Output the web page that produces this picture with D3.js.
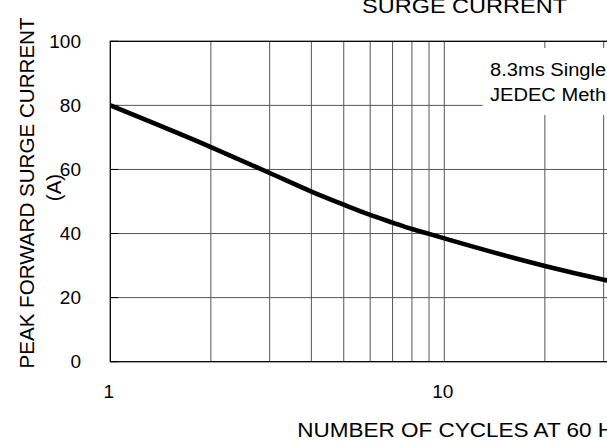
<!DOCTYPE html>
<html>
<head>
<meta charset="utf-8">
<script src="https://cdn.jsdelivr.net/npm/d3@7"></script>
<style>
  html, body { margin: 0; padding: 0; background: #fff; }
  svg { display: block; }
  text { font-family: "Liberation Sans", Arial, Helvetica, sans-serif; fill: #000; }
</style>
</head>
<body>
<svg id="chart" width="607" height="441"></svg>
<script>
// ---- data ----
const cycles = [1, 2, 3, 4, 5, 6, 7, 8, 9, 10, 20, 30, 50, 100];
const surgeCurrent = [80, 67.0, 58.9, 53.1, 49.0, 45.8, 43.4, 41.4, 39.9, 38.5, 29.9, 25.6, 21.0, 16.0];
const yTicks = [0, 20, 40, 60, 80, 100];
const xTickLabels = [1, 10, 100];
const xGrid = [2, 3, 4, 5, 6, 7, 8, 9, 10, 20, 30, 40, 50, 60, 70, 80, 90];
const titleText = "SURGE CURRENT";
const yLabel1 = "PEAK FORWARD SURGE CURRENT";
const yLabel2 = "(A)";
const xLabel = "NUMBER OF CYCLES AT 60 HZ";
const noteLines = ["8.3ms Single Half Sine-Wave", "JEDEC Method"];

// ---- layout ----
const svg = d3.select("#chart");
const plotLeft = 110.3, plotTop = 41.3, plotBottom = 361.7, decade = 334;
const x = d3.scaleLog().domain([1, 100]).range([plotLeft, plotLeft + 2 * decade]);
const y = d3.scaleLinear().domain([0, 100]).range([plotBottom, plotTop]);

svg.append("defs").append("clipPath").attr("id", "plotclip")
  .append("rect").attr("x", x(1)).attr("y", y(100)).attr("width", x(100) - x(1)).attr("height", y(0) - y(100));

const g = svg.append("g");

// gridlines
g.selectAll("line.vg").data(xGrid).enter().append("line")
  .attr("class", "vg")
  .attr("x1", d => x(d)).attr("x2", d => x(d))
  .attr("y1", y(100)).attr("y2", y(0))
  .attr("stroke", "#555").attr("stroke-width", 1);
g.selectAll("line.hg").data(yTicks.filter(d => d > 0 && d < 100)).enter().append("line")
  .attr("class", "hg")
  .attr("x1", x(1)).attr("x2", x(100))
  .attr("y1", d => y(d)).attr("y2", d => y(d))
  .attr("stroke", "#555").attr("stroke-width", 1);

// annotation background box
const noteX = 482.7;
g.append("rect").attr("x", noteX).attr("y", 48).attr("width", 300).attr("height", 67).attr("fill", "#fff");

// inner ticks on left
g.selectAll("line.yt").data(yTicks).enter().append("line")
  .attr("x1", x(1)).attr("x2", x(1) + 8)
  .attr("y1", d => y(d)).attr("y2", d => y(d))
  .attr("stroke", "#000").attr("stroke-width", 1);

// frame
g.append("rect").attr("x", x(1)).attr("y", y(100))
  .attr("width", x(100) - x(1)).attr("height", y(0) - y(100))
  .attr("fill", "none").attr("stroke", "#000").attr("stroke-width", 1.3);

// curve
const line = d3.line().x((d, i) => x(cycles[i])).y(d => y(d)).curve(d3.curveMonotoneX);
g.append("path").datum(surgeCurrent)
  .attr("d", line)
  .attr("fill", "none").attr("stroke", "#000").attr("stroke-width", 4.6)
  .attr("clip-path", "url(#plotclip)");

// y tick labels
svg.selectAll("text.ytl").data(yTicks).enter().append("text")
  .attr("x", 81).attr("y", d => y(d)).attr("dy", "0.35em")
  .attr("text-anchor", "end").attr("font-size", 19)
  .text(d => d);

// x tick labels
svg.selectAll("text.xtl").data(xTickLabels).enter().append("text")
  .attr("x", d => x(d) - 1.5).attr("y", 398.3)
  .attr("text-anchor", "middle").attr("font-size", 19)
  .text(d => d);

// title
svg.append("text")
  .attr("transform", "translate(362,12.7) scale(1.12,1)")
  .attr("font-size", 21).text(titleText);

// x label
svg.append("text")
  .attr("transform", "translate(297.3,436.7) scale(1.155,1)")
  .attr("font-size", 19.5).text(xLabel);

// y labels
svg.append("text")
  .attr("transform", "translate(33.5,193) rotate(-90) scale(1.056,1)")
  .attr("text-anchor", "middle").attr("font-size", 19.5).text(yLabel1);
svg.append("text")
  .attr("transform", "translate(60.5,187.5) rotate(-90) scale(1.056,1)")
  .attr("text-anchor", "middle").attr("font-size", 19.5).text(yLabel2);

// annotation
svg.selectAll("text.note").data(noteLines).enter().append("text")
  .attr("transform", (d, i) => `translate(490,${75.7 + i * 25.3}) scale(1.075,1)`)
  .attr("font-size", 18.7).text(d => d);
</script>
</body>
</html>
